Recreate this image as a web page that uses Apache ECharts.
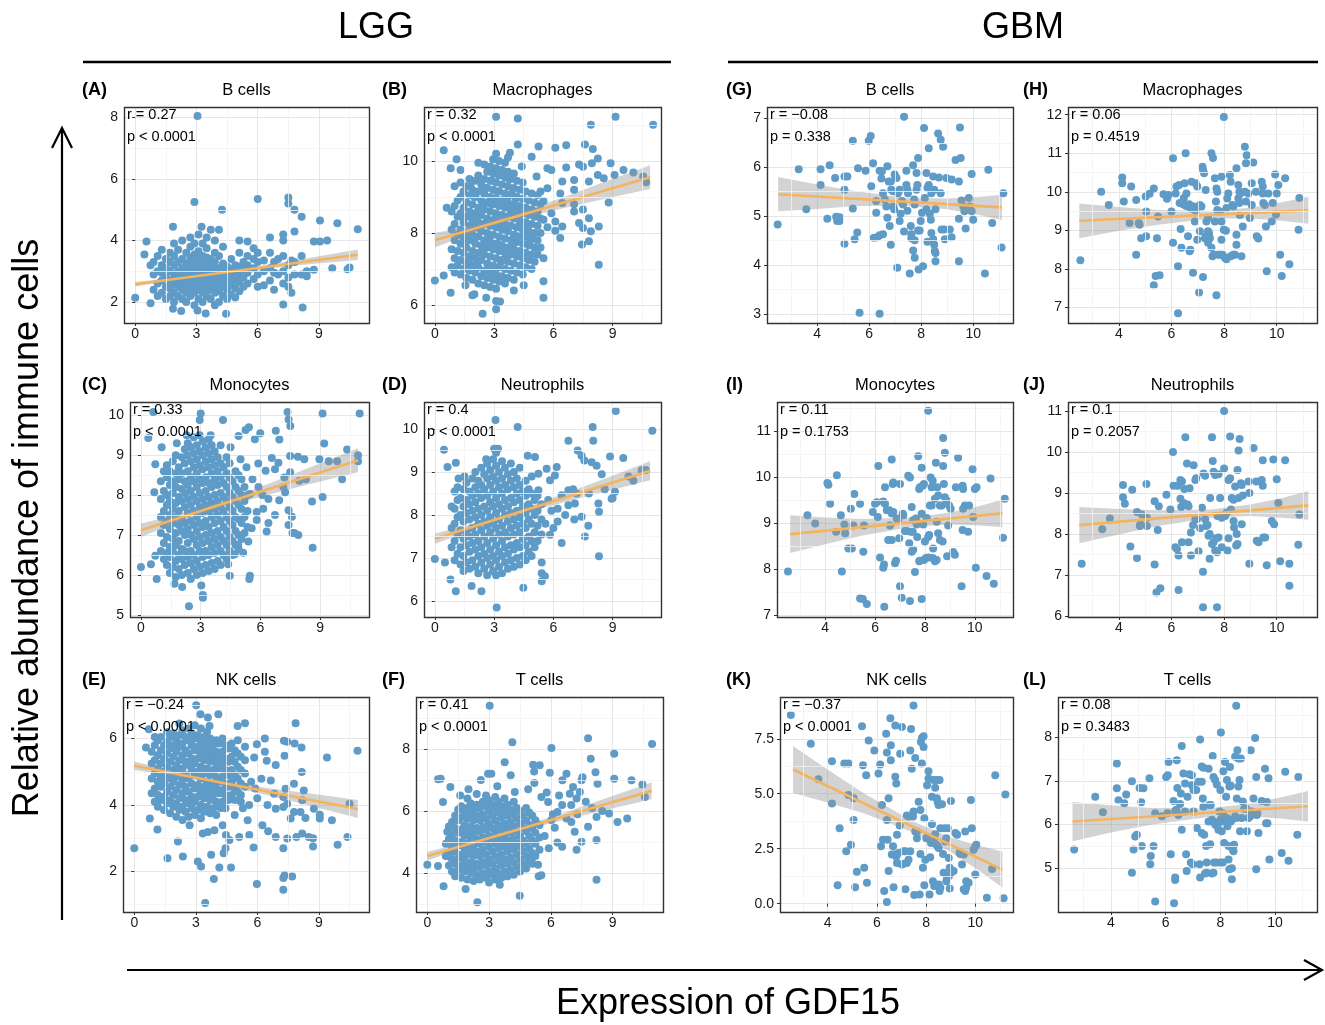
<!DOCTYPE html>
<html><head><meta charset="utf-8">
<script src="https://cdn.jsdelivr.net/npm/echarts@6/dist/echarts.min.js"></script>
<style>html,body{margin:0;padding:0;background:#fff}#c{width:1325px;height:1025px}</style>
</head><body><div id="c"></div>
<script>
// ---------------- DATA ----------------
const cellTypes = ['B cells','Macrophages','Monocytes','Neutrophils','NK cells','T cells'];
const lggXLim = [-0.55, 11.45];
const gbmXLim = [2.07, 11.53];
const lggXTicks = [0,3,6,9];
const gbmXTicks = [4,6,8,10];

const statR = ['r = 0.27','r = 0.32','r = 0.33','r = 0.4','r = \u22120.24','r = 0.41','r = \u22120.08','r = 0.06','r = 0.11','r = 0.1','r = \u22120.37','r = 0.08'];
const statP = ['p < 0.0001','p < 0.0001','p < 0.0001','p < 0.0001','p < 0.0001','p < 0.0001','p = 0.338','p = 0.4519','p = 0.1753','p = 0.2057','p < 0.0001','p = 0.3483'];

const yLimA=[1.32,8.34], yTicksA=[2,4,6,8];
const yLimB=[5.5,11.5], yTicksB=[6,8,10];
const yLimC=[4.95,10.33], yTicksC=[5,6,7,8,9,10];
const yLimD=[5.63,10.63], yTicksD=[6,7,8,9,10];
const yLimE=[0.78,7.25], yTicksE=[2,4,6];
const yLimF=[2.75,9.67], yTicksF=[4,6,8];
const yLimG=[2.82,7.23], yTicksG=[3,4,5,6,7];
const yLimH=[6.6,12.2], yTicksH=[7,8,9,10,11,12];
const yLimI=[6.97,11.64], yTicksI=[7,8,9,10,11];
const yLimJ=[5.98,11.22], yTicksJ=[6,7,8,9,10,11];
const yLimK=[-0.38,9.4], yTicksK=[0,2.5,5,7.5];
const yLimL=[4.0,8.92], yTicksL=[5,6,7,8];

// regression fits: [x, fit, lower, upper]
const fitA=[[0,2.58,2.51,2.65],[1.5,2.71,2.665,2.755],[3,2.84,2.805,2.875],[4.5,2.98,2.94,3.02],[6.5,3.15,3.09,3.21],[8.5,3.33,3.23,3.43],[10.9,3.54,3.37,3.71]];
const fitB=[[0,7.8,7.6,8.0],[1.5,8.04,7.92,8.16],[3,8.28,8.2,8.36],[4.5,8.52,8.42,8.62],[6.5,8.84,8.69,8.99],[8.5,9.17,8.94,9.4],[10.9,9.55,9.22,9.88]];
const fitC=[[0,7.12,6.95,7.29],[1.5,7.36,7.25,7.47],[3,7.6,7.52,7.68],[4.5,7.84,7.75,7.93],[6.5,8.16,8.02,8.3],[8.5,8.49,8.28,8.7],[10.9,8.87,8.57,9.17]];
const fitD=[[0,7.45,7.33,7.57],[1.5,7.67,7.59,7.75],[3,7.89,7.84,7.94],[4.5,8.1,8.04,8.16],[6.5,8.39,8.29,8.49],[8.5,8.68,8.53,8.83],[10.9,9.03,8.81,9.25]];
const fitE=[[0,5.18,5.05,5.31],[1.5,5.0,4.92,5.08],[3,4.82,4.76,4.88],[4.5,4.64,4.57,4.71],[6.5,4.4,4.29,4.51],[8.5,4.17,3.99,4.35],[10.9,3.88,3.61,4.15]];
const fitF=[[0,4.55,4.41,4.69],[1.5,4.84,4.75,4.93],[3,5.13,5.07,5.19],[4.5,5.42,5.35,5.49],[6.5,5.8,5.69,5.91],[8.5,6.19,6.01,6.37],[10.9,6.65,6.38,6.92]];
const fitG=[[2.5,5.45,5.1,5.8],[4,5.4,5.15,5.65],[5.5,5.36,5.21,5.51],[7.5,5.29,5.21,5.37],[9,5.25,5.14,5.36],[10.2,5.21,5.03,5.39],[11.1,5.18,4.92,5.44]];
const fitH=[[2.5,9.25,8.8,9.7],[4,9.3,8.99,9.61],[5.5,9.34,9.15,9.53],[7.5,9.41,9.31,9.51],[9,9.45,9.31,9.59],[10.2,9.49,9.25,9.73],[11.2,9.52,9.17,9.87]];
const fitI=[[2.6,8.77,8.36,9.18],[4,8.84,8.55,9.13],[5.5,8.92,8.74,9.1],[7.5,9.03,8.93,9.13],[9,9.11,8.98,9.24],[10.2,9.17,8.96,9.38],[11.1,9.22,8.92,9.52]];
const fitJ=[[2.5,8.22,7.78,8.66],[4,8.3,7.99,8.61],[5.5,8.39,8.2,8.58],[7.5,8.5,8.4,8.6],[9,8.58,8.44,8.72],[10.2,8.64,8.4,8.88],[11.2,8.7,8.35,9.05]];
const fitK=[[2.6,6.1,5.03,7.17],[4,5.35,4.6,6.1],[5.5,4.55,4.1,5.0],[7.5,3.48,3.23,3.73],[9,2.68,2.35,3.01],[10.2,2.04,1.46,2.62],[11.1,1.55,0.73,2.37]];
const fitL=[[2.6,6.07,5.62,6.52],[4,6.13,5.82,6.44],[5.5,6.19,6.0,6.38],[7.5,6.27,6.17,6.37],[9,6.33,6.19,6.47],[10.2,6.38,6.14,6.62],[11.2,6.42,6.07,6.77]];

// LGG points: dense cores as columns [x, [y, ...]] plus scattered single points [x, y]
const colsA=[[0,[2.14]],[0.45,[3.55]],[0.55,[3.97]],[0.75,[1.96,3.2]],[0.9,[2.4,2.9,3.3]],[1.1,[2.2,2.6,3.0,3.5]],[1.3,[2.3,2.7,2.95,3.2,3.7]],[1.5,[2.1,2.5,2.8,3.1,3.4]],[1.7,[2.2,2.45,2.7,3.0,3.3,3.6]],[1.85,[1.78,4.45]],[1.9,[2.0,2.3,2.6,2.9,3.2,3.5,3.9]],[2.1,[2.2,2.5,2.75,3.0,3.3,3.7]],[2.25,[1.71]],[2.3,[2.1,2.4,2.6,2.85,3.1,3.4,4.0]],[2.5,[2.0,2.3,2.55,2.8,3.05,3.25,3.6]],[2.7,[2.2,2.45,2.7,2.95,3.2,3.45,3.8,4.1]],[2.9,[1.9,2.3,2.55,2.8,3.05,3.3,3.55,3.9,5.25]],[3.05,[1.73,8.05]],[3.1,[2.1,2.4,2.65,2.9,3.15,3.4,3.65,4.2]],[3.25,[4.45]],[3.3,[2.0,2.3,2.55,2.8,3.05,3.3,3.5,3.9]],[3.45,[1.63]],[3.5,[2.2,2.45,2.7,2.95,3.2,3.45,3.75,4.1]],[3.7,[2.1,2.4,2.65,2.9,3.15,3.4,4.35]],[3.9,[1.9,2.3,2.55,2.8,3.05,3.3,3.6,4.0]],[4.1,[2.0,2.35,2.6,2.85,3.1,3.5,4.35]],[4.25,[5.0]],[4.3,[2.2,2.5,2.75,3.0,3.25,3.8]],[4.45,[1.62]],[4.5,[2.1,2.4,2.65,2.9,3.15]],[4.7,[2.25,2.55,2.8,3.05,3.4]],[4.9,[2.15,2.45,2.7,2.95,3.2]],[5.1,[2.35,2.65,2.9,3.15,3.6,4.0]],[5.3,[2.5,2.8,3.05,3.3]],[5.5,[2.6,2.95,3.2,3.5,3.97]],[5.8,[2.75,3.1,3.4,3.75]],[6.0,[2.5,2.9,3.3,3.6,5.35]],[6.3,[2.55,3.0,3.35]],[6.6,[2.7,3.1,3.6,4.1]],[6.8,[2.4,2.95,3.3]],[7.0,[2.9,3.4]],[7.25,[1.92,2.6,3.0,3.5,4.0,4.2]],[7.5,[2.5,2.8,3.2,5.2,5.4]],[7.65,[2.3,3.35]],[7.8,[2.9,3.3,4.29,5.0]],[8.15,[2.9,3.5,4.77]],[8.2,[1.82]],[8.4,[2.84,3.0]],[8.75,[3.05,3.97]],[9.05,[3.97,4.65]],[9.4,[4.0]],[9.65,[3.1]],[9.9,[4.56]],[10.4,[3.07]],[10.5,[3.12]],[10.9,[4.37]]];
const outA=[];

const colsB=[[0.85,[7.05,7.55,8.1,8.6]],[1.0,[6.9,7.3,7.8,8.25,8.75,9.3]],[1.15,[7.1,7.5,7.95,8.45,8.9]],[1.3,[6.85,7.25,7.7,8.1,8.55,9.0,9.4]],[1.45,[7.0,7.45,7.85,8.3,8.7,9.15]],[1.6,[6.75,7.15,7.6,8.0,8.45,8.85,9.3]],[1.75,[6.95,7.35,7.8,8.2,8.6,9.05,9.5]],[1.9,[6.7,7.1,7.5,7.95,8.35,8.8,9.2]],[2.05,[6.9,7.3,7.7,8.15,8.55,9.0,9.45]],[2.2,[6.6,7.05,7.45,7.9,8.3,8.7,9.15,9.6]],[2.35,[6.8,7.25,7.65,8.05,8.5,8.9,9.35]],[2.5,[6.55,6.95,7.4,7.8,8.25,8.65,9.1,9.5,9.9]],[2.65,[6.75,7.15,7.6,8.0,8.4,8.85,9.25,9.7]],[2.8,[6.5,6.9,7.35,7.75,8.2,8.6,9.0,9.45,9.85]],[2.95,[6.7,7.1,7.55,7.95,8.35,8.8,9.2,9.65,10.05]],[3.1,[6.45,6.85,7.3,7.7,8.15,8.55,8.95,9.4,9.8,10.2]],[3.25,[6.65,7.05,7.5,7.9,8.3,8.75,9.15,9.6,10.0]],[3.4,[6.8,7.25,7.65,8.1,8.5,8.9,9.35,9.75]],[3.55,[6.6,7.0,7.45,7.85,8.25,8.7,9.1,9.55,9.95]],[3.7,[6.75,7.2,7.6,8.05,8.45,8.85,9.3,9.7]],[3.85,[6.95,7.4,7.8,8.2,8.65,9.05,9.5]],[4.0,[6.7,7.15,7.55,7.95,8.4,8.8,9.25,9.65]],[4.15,[6.9,7.35,7.75,8.15,8.6,9.0,9.45]],[4.3,[7.1,7.5,7.9,8.35,8.75,9.2]],[4.45,[6.85,7.3,7.7,8.1,8.55,8.95,9.4]],[4.6,[7.05,7.45,7.9,8.3,8.7,9.15]],[4.75,[7.25,7.65,8.05,8.5,8.9]],[4.9,[7.0,7.4,7.85,8.25,8.65,9.1]],[5.05,[7.2,7.6,8.0,8.45,8.85]],[5.2,[7.4,7.8,8.2,8.6,9.05]],[5.35,[7.6,8.0,8.4,8.8]]];
const outB=[[0,6.68],[0.45,10.3],[0.45,6.82],[0.6,8.7],[0.8,6.34],[0.8,9.8],[1.1,10.05],[1.3,9.75],[1.55,6.55],[1.9,6.27],[2.0,6.3],[2.2,9.95],[2.42,5.76],[2.6,6.2],[3.1,5.88],[3.1,6.11],[3.3,6.1],[3.1,11.23],[3.7,10.1],[3.8,10.23],[4.0,6.4],[4.4,9.85],[4.5,6.55],[4.2,11.18],[4.2,10.46],[4.9,10.12],[5.15,9.57],[5.25,10.4],[5.35,9.15],[5.5,6.2],[5.5,6.66],[5.5,8.37],[5.5,8.88],[5.5,7.3],[5.7,8.16],[5.7,9.8],[5.7,9.24],[5.9,9.75],[5.9,8.55],[6.1,10.37],[6.1,8.32],[6.1,8.06],[6.35,7.86],[6.35,9.1],[6.45,9.43],[6.45,8.83],[6.45,8.18],[6.65,10.44],[6.65,9.82],[7.05,9.47],[7.05,9.2],[7.05,8.8],[7.05,8.6],[7.3,9.9],[7.3,8.28],[7.45,7.68],[7.5,9.84],[7.5,8.65],[7.5,8.14],[7.6,10.46],[7.8,9.43],[7.8,8.41],[7.8,7.77],[7.9,11.01],[7.9,8.05],[7.95,9.94],[8.0,10.33],[8.25,10.07],[8.25,9.61],[8.3,7.12],[8.3,8.18],[8.55,9.52],[8.8,8.85],[8.9,9.94],[9.1,9.61],[9.15,11.23],[9.55,9.75],[10.05,9.68],[10.55,9.57],[10.7,9.41],[11.05,11.01],
 [1.55,7.8],[1.85,8.55],[2.15,7.2],[2.45,8.85],[2.75,7.9],[3.05,8.4],[3.35,7.2],[3.65,8.95],[3.95,7.6],[4.25,8.2],[2.3,9.45],[2.9,9.45],[3.45,9.65],[1.95,7.85],[2.6,8.3],[3.2,7.7],[3.8,8.5],[4.4,7.45],[1.4,8.45],[2.0,9.0],[2.7,7.0],[3.3,8.9],[3.9,9.1],[4.6,8.55],[1.7,7.25],[2.45,7.6],[3.0,6.95],[3.6,7.35],[4.2,7.9],[4.8,7.75],[1.25,7.95],[2.1,8.4],[2.85,8.8],[3.5,8.1],[4.1,8.95],[4.7,8.2],[1.8,9.3],[2.55,9.25],[3.15,9.15],[3.75,9.5]];

const colsC=[[1.0,[6.6,7.05,7.45,7.9,8.35]],[1.15,[6.4,6.8,7.25,7.6,8.1,8.6]],[1.3,[6.25,6.55,6.95,7.35,7.75,8.0,8.45,8.75]],[1.45,[6.05,6.45,6.7,7.15,7.5,7.85,8.25,8.6]],[1.6,[6.2,6.6,6.9,7.3,7.65,8.05,8.35,8.85]],[1.75,[5.95,6.35,6.75,7.05,7.45,7.8,8.2,8.55,9.0]],[1.9,[6.15,6.5,6.85,7.25,7.6,7.95,8.4,8.7]],[2.05,[6.0,6.4,6.65,7.1,7.4,7.85,8.15,8.55,8.95]],[2.2,[6.25,6.6,7.0,7.3,7.7,8.05,8.35,8.8,9.15]],[2.35,[6.05,6.45,6.8,7.15,7.55,7.9,8.25,8.6,9.0,9.3]],[2.5,[5.9,6.3,6.6,7.0,7.35,7.75,8.1,8.45,8.85,9.2]],[2.65,[6.15,6.5,6.9,7.25,7.6,7.95,8.35,8.7,9.05,9.45]],[2.8,[6.0,6.35,6.75,7.1,7.45,7.85,8.2,8.55,8.9,9.25]],[2.95,[6.2,6.6,6.95,7.3,7.7,8.05,8.4,8.75,9.1,9.5]],[3.1,[6.05,6.45,6.8,7.2,7.55,7.9,8.3,8.65,9.0,9.35]],[3.25,[6.25,6.6,7.0,7.35,7.75,8.1,8.45,8.85,9.2]],[3.4,[6.1,6.5,6.85,7.2,7.6,7.95,8.3,8.7,9.05,9.4]],[3.55,[6.3,6.7,7.05,7.45,7.8,8.2,8.55,8.9,9.25]],[3.7,[6.15,6.55,6.9,7.3,7.65,8.0,8.4,8.75,9.1]],[3.85,[6.35,6.75,7.1,7.5,7.85,8.25,8.6,8.95]],[4.0,[6.25,6.6,6.95,7.35,7.7,8.05,8.45,8.8,9.25]],[4.15,[6.5,6.85,7.2,7.6,7.95,8.3,8.7]],[4.3,[6.4,6.75,7.1,7.45,7.85,8.2,8.55,8.95]],[4.45,[6.6,6.95,7.35,7.7,8.05,8.45,8.8]],[4.6,[6.5,6.85,7.25,7.6,7.95,8.35]],[4.75,[6.75,7.1,7.45,7.85,8.2,8.6]],[4.9,[6.65,7.0,7.4,7.75,8.1,8.5]],[5.05,[6.9,7.3,7.65,8.0,8.4]],[5.2,[7.05,7.45,7.85,8.2]],[5.35,[7.2,7.6,8.0]]];
const outC=[[0,6.2],[0.5,6.27],[0.79,5.9],[0.72,6.48],[0.62,10.08],[0.37,9.43],[1.04,9.2],[0.72,8.77],[0.67,8.07],[2.41,5.22],[3.03,5.74],[3.11,5.5],[3.11,5.43],[1.68,5.78],[2.07,5.7],[3.0,10.04],[2.95,9.88],[4.12,9.88],[4.9,9.48],[5.25,9.63],[5.42,9.7],[5.99,9.55],[5.72,9.4],[5.47,5.98],[5.44,5.9],[4.46,5.98],[7.36,10.08],[9.12,10.04],[10.98,10.04],[7.41,9.89],[7.5,9.73],[6.77,9.61],[6.95,9.39],[7.49,8.98],[7.88,8.96],[8.96,8.9],[9.2,9.29],[9.43,8.85],[9.85,8.85],[10.35,9.14],[10.9,9.0],[10.9,8.85],[10.1,8.4],[9.12,7.95],[8.62,6.68],[8.59,7.84],[8.28,8.4],[7.95,8.36],[7.49,8.57],[7.2,8.44],[6.9,8.81],[6.73,8.65],[6.57,8.93],[6.26,8.61],[5.89,8.79],[7.15,8.2],[7.24,8.07],[6.94,7.87],[7.41,7.62],[7.58,7.46],[7.61,7.05],[7.7,7.05],[7.41,7.25],[6.4,7.3],[6.31,7.09],[6.73,7.5],[6.4,7.9],[6.14,7.66],[5.81,7.58],[5.81,7.38],[5.47,8.03],[5.56,7.17],[5.39,6.84],[5.13,6.56],[4.88,6.76],[4.71,6.52],[4.38,6.27],[5.6,8.4],[5.9,8.2],[6.1,8.0],[5.3,8.7],[5.0,8.9],[4.5,9.2],[3.5,9.5],[2.3,9.5],[1.8,9.3],[8.2,8.9],[7.9,7.0]];

const colsD=[[0.85,[7.25,7.7,8.2]],[1.0,[6.95,7.4,7.8,8.15,8.55]],[1.15,[7.1,7.55,7.95,8.35,8.65]],[1.3,[6.85,7.25,7.65,8.0,8.4]],[1.45,[6.7,7.05,7.45,7.85,8.2,8.6]],[1.6,[6.9,7.3,7.6,8.05,8.35,8.75]],[1.75,[6.75,7.15,7.5,7.9,8.25,8.55]],[1.9,[6.95,7.35,7.7,8.1,8.45,8.85]],[2.05,[6.8,7.2,7.55,7.95,8.3,8.65,9.0]],[2.2,[6.65,7.05,7.4,7.8,8.15,8.5,8.8]],[2.35,[6.9,7.25,7.65,8.0,8.4,8.7,9.1]],[2.5,[6.75,7.1,7.5,7.85,8.2,8.6,8.95]],[2.65,[6.6,7.0,7.35,7.75,8.1,8.45,8.85,9.2]],[2.8,[6.85,7.2,7.6,7.95,8.3,8.7,9.05]],[2.95,[6.7,7.05,7.45,7.8,8.2,8.55,8.9,9.3]],[3.1,[6.6,6.95,7.3,7.7,8.05,8.4,8.8,9.15,9.45]],[3.25,[6.8,7.15,7.55,7.9,8.25,8.65,9.0]],[3.4,[6.65,7.05,7.4,7.75,8.15,8.5,8.85,9.25]],[3.55,[6.9,7.25,7.6,8.0,8.35,8.7,9.1]],[3.7,[6.75,7.1,7.5,7.85,8.2,8.6,8.95]],[3.85,[6.95,7.3,7.7,8.05,8.4,8.8,9.2]],[4.0,[6.8,7.2,7.55,7.9,8.3,8.65,9.0]],[4.15,[7.0,7.35,7.75,8.1,8.5,8.85]],[4.3,[6.85,7.25,7.6,7.95,8.35,8.7,9.1]],[4.45,[7.05,7.45,7.8,8.2,8.55]],[4.6,[6.95,7.3,7.7,8.05,8.45,8.8]],[4.75,[7.15,7.5,7.9,8.25,8.6]],[4.9,[7.05,7.4,7.8,8.15,8.5,8.9]],[5.05,[7.25,7.6,8.0,8.35]],[5.2,[7.4,7.75,8.1,8.45]],[5.4,[7.55,7.9,8.25]]];
const outD=[[0,6.98],[0.51,6.9],[0.79,6.5],[1.06,6.23],[0.46,9.52],[0.64,9.12],[1.06,9.22],[1.86,6.35],[2.36,6.23],[3.13,5.85],[3.07,10.21],[4.19,10.05],[3.0,9.54],[3.2,9.54],[4.48,6.31],[5.41,6.9],[5.41,6.65],[5.57,6.58],[5.41,6.46],[6.76,9.73],[7.99,10.05],[8.02,9.73],[9.16,10.42],[11.01,9.96],[7.23,9.5],[7.43,9.38],[7.57,9.27],[7.94,9.23],[8.19,9.15],[8.45,8.95],[8.87,9.36],[9.54,9.33],[9.8,8.9],[10.05,8.8],[10.47,9.04],[10.68,9.05],[9.12,8.54],[8.95,8.38],[8.28,8.27],[8.31,8.08],[8.31,7.04],[7.6,7.5],[7.77,7.75],[7.43,7.96],[7.09,8.27],[7.18,8.5],[6.76,8.58],[6.42,8.46],[6.17,9.12],[6.08,8.92],[5.66,9.08],[5.83,8.81],[5.24,8.96],[5.07,9.35],[4.7,9.38],[5.24,8.58],[5.74,8.35],[6.22,8.15],[6.22,7.85],[6.42,7.35],[5.83,7.54],[7.06,7.9],[6.76,8.23],[5.6,7.8],[5.9,8.1],[6.0,7.7],[6.6,8.0],[7.0,8.6],[7.8,8.5],[8.6,8.6],[9.0,8.4],[2.6,9.3],[1.5,8.9],[1.2,8.85]];

const colsE=[[0.85,[4.35,4.8,5.25,5.6]],[1.0,[4.1,4.5,4.95,5.35,5.8]],[1.15,[3.95,4.3,4.7,5.1,5.5,5.95]],[1.3,[4.15,4.55,4.85,5.25,5.65,6.05]],[1.45,[3.85,4.25,4.65,5.0,5.4,5.8]],[1.6,[4.05,4.4,4.8,5.15,5.55,5.9,6.2]],[1.75,[3.75,4.15,4.55,4.9,5.3,5.7,6.05]],[1.9,[3.95,4.3,4.7,5.05,5.45,5.8,6.15]],[2.05,[3.65,4.05,4.45,4.85,5.2,5.6,5.95]],[2.2,[3.85,4.2,4.6,5.0,5.35,5.75,6.1,6.45]],[2.35,[3.55,3.95,4.35,4.75,5.1,5.5,5.85,6.25]],[2.5,[3.8,4.15,4.55,4.9,5.3,5.65,6.05]],[2.65,[3.65,4.05,4.4,4.8,5.2,5.55,5.95,6.3]],[2.8,[3.9,4.25,4.65,5.05,5.4,5.8,6.15]],[2.95,[3.7,4.1,4.5,4.9,5.25,5.65,6.0,6.4]],[3.1,[3.85,4.25,4.6,5.0,5.4,5.75,6.1]],[3.25,[3.6,4.0,4.4,4.8,5.15,5.55,5.9,6.3]],[3.4,[3.8,4.2,4.55,4.95,5.35,5.7,6.05]],[3.55,[3.95,4.35,4.7,5.1,5.5,5.85,6.2]],[3.7,[3.75,4.15,4.5,4.9,5.3,5.65,6.0]],[3.85,[3.9,4.3,4.65,5.05,5.45,5.8]],[4.0,[3.7,4.1,4.5,4.85,5.25,5.6,5.95]],[4.15,[3.95,4.35,4.7,5.1,5.45,5.85]],[4.3,[4.1,4.45,4.85,5.25,5.6,6.0]],[4.45,[3.9,4.3,4.65,5.05,5.4,5.8]],[4.6,[4.15,4.55,4.9,5.3,5.7]],[4.75,[4.3,4.7,5.05,5.45,5.85]],[4.9,[4.15,4.5,4.9,5.3,5.65]],[5.05,[4.4,4.8,5.15,5.55,5.95]],[5.2,[4.3,4.65,5.05,5.45]],[5.4,[4.55,4.95,5.35,5.75]]];
const outE=[[0,2.7],[0.76,3.59],[1.13,3.26],[1.62,2.4],[2.13,2.9],[2.37,2.45],[2.7,3.39],[3.46,1.05],[3.1,2.3],[3.26,2.15],[3.88,1.77],[4.15,2.12],[4.72,2.12],[4.36,2.55],[4.45,2.7],[3.75,2.5],[3.02,7.0],[3.23,6.73],[3.59,6.63],[4.1,6.73],[3.67,6.38],[0.57,5.73],[1.0,6.05],[0.71,6.28],[5.04,6.38],[5.4,6.46],[5.98,5.83],[6.37,6.0],[7.87,6.46],[7.3,5.93],[7.46,5.9],[7.82,5.85],[8.16,5.73],[9.4,5.43],[10.89,5.63],[6.37,5.6],[6.46,5.33],[5.85,5.43],[6.2,4.79],[6.66,4.74],[7.33,5.48],[8.17,4.99],[7.79,4.64],[7.38,4.49],[6.82,4.34],[7.27,4.24],[7.46,4.04],[7.27,3.94],[6.9,3.89],[7.79,3.79],[7.63,3.59],[8.11,3.79],[8.76,3.89],[8.27,4.44],[8.19,4.14],[8.35,3.61],[9.05,3.71],[9.05,3.59],[9.64,3.54],[8.19,3.14],[8.51,3.04],[7.91,3.04],[7.46,2.99],[6.9,3.04],[6.53,3.21],[6.25,3.39],[5.53,3.54],[5.61,3.1],[5.12,3.04],[5.82,2.72],[8.72,2.75],[8.72,3.0],[9.92,2.8],[10.4,3.04],[10.5,4.04],[7.27,2.7],[7.27,1.8],[7.33,1.88],[7.7,1.85],[7.27,1.45],[5.98,1.62],[4.23,3.91],[4.31,3.39],[4.47,3.1],[4.64,2.95],[3.91,3.24],[3.59,3.19],[3.34,3.14],[5.6,4.0],[5.9,4.5],[6.0,4.2],[5.7,4.7],[6.5,4.0],[6.9,5.2],[5.3,3.9],[4.9,3.7],[5.2,4.1]];

const colsF=[[0.9,[4.55,4.95]],[1.05,[4.25,4.65,5.1,5.5]],[1.2,[4.05,4.45,4.85,5.25,5.65]],[1.35,[3.9,4.3,4.7,5.05,5.45,5.85]],[1.5,[4.1,4.5,4.9,5.3,5.7,6.05]],[1.65,[3.85,4.25,4.6,5.0,5.4,5.8,6.15]],[1.8,[4.05,4.4,4.8,5.2,5.55,5.95]],[1.95,[3.8,4.2,4.6,4.95,5.35,5.75,6.1,6.4]],[2.1,[4.0,4.35,4.75,5.15,5.5,5.9,6.25]],[2.25,[3.75,4.15,4.55,4.9,5.3,5.7,6.05]],[2.4,[3.95,4.3,4.7,5.1,5.45,5.85,6.2,6.55]],[2.55,[3.8,4.2,4.55,4.95,5.35,5.7,6.1]],[2.7,[4.0,4.35,4.75,5.15,5.5,5.9,6.3]],[2.85,[3.85,4.25,4.6,5.0,5.4,5.75,6.15,6.5]],[3.0,[3.7,4.05,4.45,4.85,5.2,5.6,6.0,6.35]],[3.15,[3.95,4.3,4.7,5.1,5.45,5.85,6.2]],[3.3,[3.8,4.15,4.55,4.95,5.35,5.7,6.1,6.45]],[3.45,[4.0,4.4,4.8,5.15,5.55,5.95,6.3]],[3.6,[3.85,4.25,4.6,5.0,5.4,5.8,6.15]],[3.75,[4.05,4.45,4.85,5.2,5.6,6.0,6.4]],[3.9,[3.9,4.3,4.7,5.05,5.45,5.85,6.2]],[4.05,[4.1,4.5,4.9,5.3,5.65,6.05]],[4.2,[3.95,4.35,4.75,5.1,5.5,5.9,6.3]],[4.35,[4.2,4.6,4.95,5.35,5.75,6.1]],[4.5,[4.05,4.45,4.85,5.2,5.6,6.0]],[4.65,[4.3,4.7,5.05,5.45,5.85]],[4.8,[4.15,4.55,4.95,5.35,5.7,6.1]],[4.95,[4.4,4.8,5.2,5.55,5.95]],[5.1,[4.3,4.65,5.05,5.45,5.85]],[5.25,[4.55,4.95,5.3,5.7]],[5.45,[4.75,5.15,5.55]]];
const outF=[[0,4.27],[0.52,4.23],[0.52,7.02],[0.65,7.04],[0.79,3.58],[0.76,6.29],[0.97,5.33],[1.09,4.53],[1.12,6.77],[1.86,3.49],[2.43,3.06],[3.03,9.39],[2.95,7.2],[3.11,7.2],[3.76,7.57],[4.13,8.21],[4.05,7.15],[4.25,6.61],[4.49,3.27],[3.52,3.63],[5.14,7.49],[5.19,7.27],[5.46,7.47],[5.95,7.23],[6.03,8.03],[6.56,6.99],[6.76,7.2],[7.49,6.99],[7.54,7.09],[7.81,8.34],[7.94,7.68],[8.17,7.25],[8.27,6.88],[9.08,7.04],[9.08,7.84],[9.92,6.99],[10.45,6.85],[10.57,6.45],[9.71,5.76],[9.24,5.65],[8.83,5.92],[8.22,5.07],[8.22,3.79],[8.22,5.81],[7.81,5.49],[7.49,5.01],[7.25,4.75],[7.16,5.33],[7.0,5.65],[6.76,5.76],[6.55,6.19],[6.32,5.97],[6.19,5.46],[6.03,5.71],[5.87,6.29],[6.32,4.99],[6.55,4.85],[6.99,6.19],[7.25,6.4],[7.41,6.61],[7.08,6.77],[6.92,6.56],[5.54,6.45],[5.38,4.27],[5.41,3.9],[5.54,3.93],[5.06,4.43],[4.73,4.27],[10.92,8.16],[5.7,5.2],[5.9,4.8],[6.1,5.9],[5.8,6.6],[6.4,6.5],[7.7,6.3],[8.0,6.1],[8.5,6.0],[7.3,5.9],[4.9,6.7],[5.2,6.9],[3.4,6.8],[2.6,7.0],[1.6,6.5],[2.0,6.7]];

// GBM points [x, y]
const ptsG=[[2.48,4.83],[3.29,5.96],[3.58,5.14],[4.13,5.96],[4.13,5.64],[4.48,6.04],[4.39,4.95],[4.69,5.78],[4.73,4.99],[4.8,4.95],[4.86,4.9],[4.77,4.9],[4.86,4.98],[5.05,5.81],[5.16,5.81],[5.05,5.54],[5.05,4.44],[5.37,6.54],[5.37,5.16],[5.44,4.53],[5.54,4.67],[5.57,5.98],[5.63,3.03],[5.86,5.93],[5.98,6.54],[6.06,6.64],[6.08,5.61],[6.15,6.08],[6.27,5.07],[6.18,4.56],[6.31,4.57],[6.4,4.61],[6.53,4.63],[6.27,5.31],[6.4,5.93],[6.49,5.92],[6.4,3.01],[6.47,5.77],[6.53,5.47],[6.6,5.34],[6.66,5.2],[6.7,6.02],[6.75,5.71],[6.83,5.71],[6.7,4.97],[6.79,4.8],[6.83,4.42],[6.85,5.54],[6.92,5.51],[6.92,5.2],[6.96,5.14],[6.98,5.85],[7.05,5.78],[7.08,3.95],[7.11,5.47],[7.17,5.54],[7.17,4.9],[7.21,5.05],[7.26,5.31],[7.3,5.24],[7.34,7.03],[7.34,4.69],[7.43,5.93],[7.43,5.64],[7.47,5.54],[7.47,5.11],[7.49,5.47],[7.56,3.83],[7.6,4.8],[7.62,4.63],[7.62,4.55],[7.69,6.04],[7.69,4.3],[7.73,5.34],[7.75,5.24],[7.75,4.51],[7.75,4.15],[7.82,5.88],[7.82,5.54],[7.85,5.64],[7.88,6.19],[7.88,4.71],[7.94,4.71],[7.9,3.91],[7.98,4.9],[8.03,5.07],[8.07,3.98],[8.11,6.8],[8.14,5.37],[8.2,5.14],[8.2,5.88],[8.24,5.58],[8.29,5.64],[8.24,4.48],[8.29,6.39],[8.33,5.05],[8.37,4.93],[8.39,4.66],[8.39,5.47],[8.46,5.81],[8.5,5.54],[8.46,4.53],[8.5,4.42],[8.52,4.29],[8.55,4.25],[8.55,4.08],[8.55,5.14],[8.65,6.69],[8.75,6.56],[8.68,5.79],[8.75,5.47],[8.84,6.42],[8.78,4.73],[8.88,4.73],[8.91,4.53],[8.97,5.78],[9.17,5.75],[9.1,4.73],[9.17,4.57],[9.32,6.15],[9.49,6.81],[9.52,6.19],[9.45,5.71],[9.45,4.95],[9.45,4.08],[9.55,5.32],[9.62,5.2],[9.66,5.1],[9.71,5.14],[9.71,4.75],[9.83,5.37],[9.87,5.2],[9.94,5.1],[9.94,5.86],[10.0,4.93],[10.45,3.83],[10.58,5.95],[10.73,4.86],[11.09,4.36],[11.16,5.47]];
const ptsH=[[2.54,8.23],[3.33,10.0],[3.62,9.66],[4.13,10.37],[4.13,10.22],[4.19,9.75],[4.41,9.19],[4.47,10.14],[4.66,9.79],[4.66,8.37],[4.76,9.19],[4.79,9.15],[4.85,8.8],[5.02,9.88],[5.04,8.85],[5.04,9.49],[5.17,9.95],[5.33,10.09],[5.33,7.58],[5.4,7.82],[5.55,7.84],[5.45,8.8],[5.49,9.36],[5.7,9.94],[5.83,9.82],[5.89,9.92],[6.0,9.49],[6.06,10.87],[6.06,8.68],[6.16,9.96],[6.19,10.14],[6.25,8.07],[6.25,6.85],[6.29,10.18],[6.31,9.71],[6.35,9.04],[6.38,8.55],[6.44,9.68],[6.47,9.84],[6.5,10.22],[6.54,9.64],[6.57,9.96],[6.54,11.0],[6.63,8.85],[6.63,9.62],[6.67,9.68],[6.72,9.64],[6.69,8.46],[6.72,8.5],[6.76,10.26],[6.76,9.57],[6.82,9.63],[6.85,9.55],[6.92,9.51],[6.82,7.9],[6.89,9.23],[6.92,10.22],[6.98,10.14],[6.98,8.76],[7.05,7.39],[7.08,9.66],[7.14,9.62],[7.08,8.98],[7.18,10.65],[7.2,10.57],[7.24,10.48],[7.27,8.8],[7.3,8.84],[7.2,7.79],[7.3,10.05],[7.33,9.23],[7.39,9.32],[7.39,8.98],[7.43,8.93],[7.39,8.68],[7.46,8.8],[7.52,11.0],[7.58,10.88],[7.52,8.55],[7.56,8.33],[7.61,8.37],[7.65,10.35],[7.65,9.23],[7.69,9.75],[7.74,9.53],[7.71,10.09],[7.74,10.0],[7.71,7.32],[7.78,8.37],[7.84,8.37],[7.84,9.49],[7.9,9.23],[7.9,10.39],[7.9,8.76],[7.94,8.37],[8.03,8.29],[7.99,11.94],[7.99,9.02],[8.07,8.99],[8.09,9.58],[8.09,8.25],[8.12,9.83],[8.16,9.96],[8.22,10.44],[8.25,10.26],[8.25,8.33],[8.35,8.37],[8.32,9.66],[8.35,9.62],[8.41,8.37],[8.47,8.63],[8.47,8.89],[8.47,10.61],[8.54,10.18],[8.58,10.0],[8.62,9.96],[8.54,9.83],[8.58,9.71],[8.6,9.4],[8.66,8.33],[8.71,9.1],[8.79,11.17],[8.83,10.74],[8.86,10.95],[8.79,10.0],[8.92,9.96],[8.83,9.75],[8.98,9.32],[9.05,9.66],[9.05,10.22],[9.11,10.76],[9.21,10.0],[9.24,8.85],[9.3,8.79],[9.43,10.26],[9.47,10.14],[9.47,9.96],[9.49,9.71],[9.55,9.66],[9.59,9.1],[9.62,7.94],[9.68,9.96],[9.81,9.23],[9.85,9.71],[9.94,10.45],[9.97,9.41],[10.0,9.96],[10.06,10.18],[10.13,8.37],[10.32,10.35],[10.48,8.12],[10.19,7.82],[10.83,9.02],[10.86,9.84]];
const ptsI=[[2.51,7.96],[3.29,9.18],[3.6,9.0],[4.09,9.88],[4.13,9.84],[4.2,9.43],[4.44,8.82],[4.47,10.05],[4.63,9.18],[4.67,7.96],[4.77,8.98],[4.8,8.79],[4.93,8.46],[5.07,8.46],[5.03,9.32],[5.13,8.96],[5.17,9.64],[5.4,9.43],[5.4,7.37],[5.51,7.36],[5.53,8.39],[5.67,7.25],[5.56,8.96],[5.91,9.25],[6.0,9.43],[6.07,9.46],[6.11,9.14],[6.13,10.25],[6.2,8.26],[6.33,8.04],[6.36,8.11],[6.33,9.48],[6.4,9.43],[6.37,7.19],[6.4,9.79],[6.47,9.29],[6.57,9.29],[6.53,8.64],[6.67,8.64],[6.6,8.96],[6.67,10.39],[6.67,9.22],[6.73,9.25],[6.71,9.86],[6.73,9.89],[6.8,8.14],[6.84,8.19],[6.87,9.11],[6.93,9.07],[6.97,8.68],[7.0,9.86],[7.0,7.64],[7.07,7.39],[7.11,9.21],[7.13,9.18],[7.2,8.84],[7.27,8.84],[7.33,10.04],[7.4,10.0],[7.37,8.57],[7.4,7.32],[7.43,8.82],[7.51,8.82],[7.47,9.36],[7.47,8.39],[7.53,8.43],[7.53,9.07],[7.64,9.11],[7.6,7.95],[7.67,8.98],[7.69,8.71],[7.73,10.46],[7.77,9.75],[7.8,9.79],[7.77,8.18],[7.8,8.19],[7.87,10.21],[7.87,7.36],[7.87,9.21],[7.91,9.82],[7.96,9.86],[7.93,8.98],[7.96,8.21],[8.04,8.25],[8.13,8.26],[8.0,8.61],[8.07,9.12],[8.13,11.45],[8.13,8.71],[8.17,8.75],[8.2,9.39],[8.27,9.39],[8.23,10.0],[8.31,9.93],[8.27,9.79],[8.31,8.25],[8.4,8.18],[8.47,8.21],[8.33,8.46],[8.4,9.54],[8.44,10.32],[8.47,9.04],[8.49,9.79],[8.53,9.61],[8.53,8.79],[8.6,8.64],[8.6,9.39],[8.67,9.39],[8.71,8.61],[8.73,10.25],[8.73,10.86],[8.76,9.86],[8.8,10.54],[8.8,9.57],[8.87,9.5],[8.89,8.29],[8.93,8.96],[8.97,9.39],[9.03,9.32],[9.13,8.38],[9.2,8.32],[9.24,9.79],[9.33,10.43],[9.47,7.64],[9.51,9.82],[9.53,9.75],[9.53,9.32],[9.6,9.39],[9.51,8.86],[9.73,8.82],[9.77,9.39],[9.91,10.18],[9.93,9.14],[10.0,9.75],[10.07,9.79],[10.04,8.04],[10.47,7.86],[10.63,9.98],[10.76,7.69],[11.13,8.69],[11.2,9.54]];
const ptsJ=[[2.59,7.28],[3.37,8.12],[3.66,8.38],[4.16,9.2],[4.16,8.9],[4.23,8.74],[4.44,7.7],[4.51,9.08],[4.69,8.54],[4.69,7.42],[4.8,8.2],[4.82,8.24],[4.88,8.48],[5.05,9.22],[5.07,8.2],[5.07,8.4],[5.36,8.8],[5.36,7.26],[5.43,6.58],[5.58,6.68],[5.48,8.1],[5.52,8.68],[5.81,8.96],[5.96,8.6],[6.06,10.0],[6.08,9.18],[6.15,7.68],[6.21,7.64],[6.24,9.18],[6.27,7.48],[6.27,6.64],[6.34,9.32],[6.4,9.28],[6.34,8.86],[6.37,8.66],[6.4,7.8],[6.46,8.76],[6.53,8.72],[6.49,9.1],[6.53,10.36],[6.59,9.72],[6.61,8.72],[6.65,8.68],[6.65,7.8],[6.69,9.12],[6.74,8.04],[6.74,7.48],[6.82,8.22],[6.84,9.68],[6.91,9.32],[6.94,9.36],[6.91,8.36],[6.97,8.36],[7.03,7.58],[7.09,8.14],[7.16,8.64],[7.2,7.08],[7.2,6.22],[7.22,9.48],[7.28,9.42],[7.28,8.36],[7.32,8.2],[7.37,8.22],[7.41,7.96],[7.45,8.0],[7.45,7.4],[7.47,8.88],[7.54,10.36],[7.54,7.76],[7.6,7.8],[7.57,9.78],[7.6,9.52],[7.66,9.44],[7.66,7.6],[7.73,7.56],[7.7,7.9],[7.79,7.92],[7.73,6.22],[7.75,8.44],[7.79,9.46],[7.85,8.88],[7.85,8.44],[7.91,8.4],[7.91,7.68],[8.0,11.0],[8.0,9.6],[8.04,8.44],[8.1,8.52],[8.13,7.6],[8.17,9.32],[8.23,9.36],[8.17,7.9],[8.23,10.38],[8.26,8.6],[8.29,8.88],[8.36,8.84],[8.36,8.32],[8.38,8.16],[8.42,9.16],[8.46,7.72],[8.51,7.76],[8.48,8.0],[8.51,9.56],[8.55,10.04],[8.55,8.88],[8.59,10.32],[8.64,9.24],[8.67,9.2],[8.67,8.24],[8.71,8.94],[8.93,9.28],[8.96,9.0],[8.96,7.28],[9.12,10.1],[9.24,7.84],[9.31,7.8],[9.22,9.28],[9.43,9.32],[9.47,9.18],[9.47,9.8],[9.49,7.92],[9.56,7.92],[9.62,7.24],[9.87,9.82],[9.81,8.32],[9.9,8.24],[10.0,9.34],[10.06,8.76],[10.13,7.34],[10.32,9.8],[10.48,7.28],[10.48,6.74],[10.82,7.74],[10.86,8.48]];
const ptsK=[[2.51,8.58],[3.32,7.27],[3.63,5.66],[4.18,6.48],[4.18,4.56],[4.41,0.84],[4.49,3.43],[4.68,6.37],[4.85,6.37],[4.76,2.38],[4.85,4.94],[4.95,2.68],[5.06,4.79],[5.06,3.81],[5.12,0.75],[5.19,1.45],[5.4,8.07],[5.44,6.3],[5.49,1.63],[5.57,5.84],[5.6,0.95],[5.67,7.42],[5.9,6.97],[6.07,5.92],[6.14,6.33],[6.17,2.61],[6.21,4.49],[6.25,2.91],[6.3,0.57],[6.38,7.73],[6.41,6.87],[6.41,3.81],[6.41,0.08],[6.44,2.91],[6.48,4.79],[6.48,1.48],[6.55,8.43],[6.57,7.2],[6.57,6.52],[6.61,2.23],[6.66,2.61],[6.68,0.75],[6.71,2.23],[6.79,2.15],[6.75,8.1],[6.75,5.77],[6.79,5.47],[6.82,1.85],[6.82,3.13],[6.88,2.3],[6.93,3.55],[6.95,6.82],[7.02,8.03],[7.02,1.78],[7.09,1.81],[7.09,2.38],[7.16,2.38],[7.16,0.65],[7.22,1.85],[7.29,2.0],[7.22,4.01],[7.29,3.96],[7.36,6.97],[7.36,2.38],[7.39,7.95],[7.42,6.14],[7.47,3.96],[7.49,9.01],[7.49,4.19],[7.52,0.39],[7.56,6.63],[7.56,3.28],[7.63,3.28],[7.63,2.98],[7.7,4.64],[7.74,0.42],[7.77,4.26],[7.77,2.26],[7.79,7.35],[7.83,7.53],[7.9,7.62],[7.83,6.37],[7.87,1.63],[7.9,7.12],[7.93,3.89],[7.93,0.84],[7.97,2.0],[8.01,2.98],[8.06,3.01],[8.04,5.39],[8.1,6.02],[8.1,5.69],[8.14,0.42],[8.17,2.11],[8.2,2.76],[8.24,4.86],[8.24,3.61],[8.28,1.02],[8.31,5.62],[8.44,5.62],[8.55,5.62],[8.31,2.83],[8.33,0.8],[8.37,5.27],[8.37,3.16],[8.42,2.68],[8.44,4.79],[8.47,4.64],[8.51,4.49],[8.47,2.61],[8.51,2.53],[8.51,0.87],[8.55,0.57],[8.58,0.72],[8.58,3.43],[8.65,4.52],[8.69,2.26],[8.71,1.4],[8.74,3.43],[8.78,2.83],[8.82,2.98],[8.82,1.02],[8.85,1.17],[8.92,1.25],[8.88,3.43],[8.92,2.08],[8.96,1.63],[8.98,1.33],[8.96,0.69],[9.01,4.67],[9.12,1.48],[9.19,3.21],[9.26,3.13],[9.36,2.33],[9.39,2.26],[9.53,2.23],[9.46,1.78],[9.53,0.65],[9.59,0.57],[9.63,0.72],[9.59,3.28],[9.63,1.02],[9.73,0.95],[9.82,4.71],[9.86,3.43],[9.93,2.45],[10.0,2.61],[10.04,2.68],[10.0,1.33],[10.47,0.27],[10.68,1.58],[10.81,5.84],[11.15,0.24],[11.22,4.97]];
const ptsL=[[2.66,5.43],[3.43,6.64],[3.71,6.28],[4.22,7.4],[4.22,6.83],[4.28,6.56],[4.49,6.49],[4.56,6.69],[4.77,6.99],[4.77,4.9],[4.83,5.43],[4.89,5.73],[4.95,5.77],[5.05,6.84],[5.19,6.83],[5.11,6.51],[5.13,5.51],[5.41,7.06],[5.44,5.09],[5.46,5.28],[5.56,5.51],[5.62,6.26],[5.62,4.24],[5.86,6.19],[6.02,7.09],[6.08,7.13],[6.07,6.26],[6.11,7.43],[6.19,5.32],[6.29,6.54],[6.31,4.2],[6.35,6.31],[6.39,6.34],[6.35,4.79],[6.35,4.73],[6.41,7.47],[6.43,6.84],[6.47,6.22],[6.53,6.47],[6.56,6.71],[6.59,7.8],[6.59,5.88],[6.65,7.17],[6.71,6.94],[6.71,6.3],[6.75,5.32],[6.77,4.94],[6.8,6.64],[6.87,7.15],[6.96,7.13],[6.92,5.13],[6.99,5.09],[6.96,6.9],[7.02,6.79],[7.02,6.3],[7.12,6.79],[7.14,5.92],[7.2,6.98],[7.24,5.09],[7.26,7.95],[7.26,4.79],[7.32,7.33],[7.38,7.3],[7.32,6.98],[7.32,5.81],[7.36,6.6],[7.38,6.41],[7.41,5.77],[7.44,4.88],[7.5,4.9],[7.48,5.51],[7.5,5.13],[7.57,6.07],[7.57,7.28],[7.6,6.45],[7.65,6.45],[7.63,5.55],[7.69,4.88],[7.75,4.9],[7.69,6.11],[7.75,6.07],[7.72,7.57],[7.75,7.09],[7.81,7.02],[7.77,5.13],[7.85,5.13],[7.81,6.0],[7.87,6.0],[7.87,6.92],[7.89,5.96],[7.93,5.88],[7.97,6.3],[8.0,6.11],[8.05,6.07],[8.0,6.79],[8.0,5.13],[8.09,5.13],[8.02,8.11],[8.05,5.85],[8.09,6.26],[8.11,7.22],[8.14,6.11],[8.14,5.58],[8.17,7.43],[8.21,6.64],[8.24,7.02],[8.24,6.15],[8.3,6.11],[8.26,5.96],[8.3,5.51],[8.3,5.2],[8.33,4.98],[8.33,6.87],[8.38,6.89],[8.35,7.32],[8.38,6.07],[8.42,6.11],[8.42,5.0],[8.42,4.75],[8.45,5.43],[8.48,5.39],[8.5,5.54],[8.54,7.55],[8.54,6.19],[8.58,6.15],[8.58,8.72],[8.6,6.6],[8.62,7.7],[8.66,6.87],[8.7,7.02],[8.66,7.51],[8.75,7.51],[8.72,5.85],[8.78,6.15],[8.82,6.53],[8.87,6.36],[8.94,6.36],[8.97,5.85],[9.03,6.15],[9.09,6.19],[9.11,7.7],[9.15,6.3],[9.21,6.6],[9.27,7.98],[9.31,7.09],[9.31,4.98],[9.33,6.22],[9.35,6.26],[9.39,5.81],[9.51,6.54],[9.7,6.52],[9.63,7.28],[9.67,6.03],[9.72,6.03],[9.76,7.06],[9.79,5.2],[10.37,7.21],[10.24,5.35],[10.49,5.17],[10.85,7.09],[10.81,5.77]];

// ---------------- BUILD ----------------
const FF = '"Liberation Sans", Arial, Helvetica, sans-serif';
const PT = '#5F9BC7', OR = '#F4B35F', BAND = 'rgba(150,150,150,0.42)';
function fromColumns(cols){const o=[];cols.forEach(c=>c[1].forEach(y=>o.push([c[0],y])));return o;}

const panels = [
 {letter:'(A)', ct:0, i:0,  box:[124,107,369,323], xLim:lggXLim, xT:lggXTicks, yLim:yLimA, yT:yTicksA, pts:fromColumns(colsA).concat(outA), fit:fitA},
 {letter:'(B)', ct:1, i:1,  box:[424,107,661,323], xLim:lggXLim, xT:lggXTicks, yLim:yLimB, yT:yTicksB, pts:fromColumns(colsB).concat(outB), fit:fitB},
 {letter:'(C)', ct:2, i:2,  box:[130,402,369,617], xLim:lggXLim, xT:lggXTicks, yLim:yLimC, yT:yTicksC, pts:fromColumns(colsC).concat(outC), fit:fitC},
 {letter:'(D)', ct:3, i:3,  box:[424,402,661,617], xLim:lggXLim, xT:lggXTicks, yLim:yLimD, yT:yTicksD, pts:fromColumns(colsD).concat(outD), fit:fitD},
 {letter:'(E)', ct:4, i:4,  box:[123,697,369,912], xLim:lggXLim, xT:lggXTicks, yLim:yLimE, yT:yTicksE, pts:fromColumns(colsE).concat(outE), fit:fitE},
 {letter:'(F)', ct:5, i:5,  box:[416,697,663,912], xLim:lggXLim, xT:lggXTicks, yLim:yLimF, yT:yTicksF, pts:fromColumns(colsF).concat(outF), fit:fitF},
 {letter:'(G)', ct:0, i:6,  box:[767,107,1013,323], xLim:gbmXLim, xT:gbmXTicks, yLim:yLimG, yT:yTicksG, pts:ptsG, fit:fitG},
 {letter:'(H)', ct:1, i:7,  box:[1068,107,1317,323], xLim:gbmXLim, xT:gbmXTicks, yLim:yLimH, yT:yTicksH, pts:ptsH, fit:fitH},
 {letter:'(I)', ct:2, i:8,  box:[777,402,1013,617], xLim:gbmXLim, xT:gbmXTicks, yLim:yLimI, yT:yTicksI, pts:ptsI, fit:fitI},
 {letter:'(J)', ct:3, i:9,  box:[1068,402,1317,617], xLim:gbmXLim, xT:gbmXTicks, yLim:yLimJ, yT:yTicksJ, pts:ptsJ, fit:fitJ},
 {letter:'(K)', ct:4, i:10, box:[780,697,1013,912], xLim:gbmXLim, xT:gbmXTicks, yLim:yLimK, yT:yTicksK, pts:ptsK, fit:fitK, fmt:1},
 {letter:'(L)', ct:5, i:11, box:[1058,697,1317,912], xLim:gbmXLim, xT:gbmXTicks, yLim:yLimL, yT:yTicksL, pts:ptsL, fit:fitL}
];
const letterX = {'(A)':82,'(C)':82,'(E)':82,'(B)':382,'(D)':382,'(F)':382,'(G)':726,'(I)':726,'(K)':726,'(H)':1023,'(J)':1023,'(L)':1023};
const rowTitleY = {107:90, 402:385, 697:680};

function minors(ticks, lim){
  const st = ticks[1]-ticks[0], out=[];
  const all=[ticks[0]-st/2].concat(ticks.map(t=>t+st/2));
  all.forEach(v=>{ if(v>lim[0] && v<lim[1]) out.push(v); });
  return out;
}
function txt(x,y,text,font,align,extra){
  return Object.assign({type:'text', x:x, y:y, silent:true, z:100,
    style:{text:text, font:font, fill:'#000', textAlign:align, align:align, textVerticalAlign:'middle', verticalAlign:'middle'}}, extra||{});
}

const grid=[], xAxis=[], yAxis=[], series=[], graphic=[];
panels.forEach((pn,k)=>{
  const [l,t,r,b]=pn.box;
  grid.push({left:l, top:t, width:r-l, height:b-t, containLabel:false, outerBoundsMode:'none', show:true, backgroundColor:'#fff', borderWidth:0});
  const axLabel = {color:'#1a1a1a', fontSize:14, fontFamily:FF};
  xAxis.push({gridIndex:k, type:'value', min:pn.xLim[0], max:pn.xLim[1],
    axisLine:{show:false},
    axisTick:{show:true, length:3, lineStyle:{color:'#333'}, customValues:pn.xT},
    axisLabel:Object.assign({customValues:pn.xT, margin:4, formatter:v=>String(v)}, axLabel),
    splitLine:{show:true, lineStyle:{color:'#E6E6E6', width:1}}});
  yAxis.push({gridIndex:k, type:'value', min:pn.yLim[0], max:pn.yLim[1],
    axisLine:{show:false},
    axisTick:{show:true, length:3, lineStyle:{color:'#333'}, customValues:pn.yT},
    axisLabel:Object.assign({customValues:pn.yT, margin:6, formatter:v=>pn.fmt?Number(v).toFixed(1):String(v)}, axLabel),
    splitLine:{show:true, lineStyle:{color:'#E6E6E6', width:1}}});
  const mx=minors(pn.xT,pn.xLim), my=minors(pn.yT,pn.yLim);
  series.push({type:'line', xAxisIndex:k, yAxisIndex:k, data:[[pn.xLim[0],pn.yLim[0]]], symbol:'none', silent:true, z:1,
    lineStyle:{opacity:0},
    markLine:{silent:true, symbol:['none','none'], label:{show:false}, animation:false,
      lineStyle:{color:'#F2F2F2', width:0.8, type:'solid'}, emphasis:{disabled:true},
      data: mx.map(v=>({xAxis:v})).concat(my.map(v=>({yAxis:v})))}});
  series.push({type:'scatter', xAxisIndex:k, yAxisIndex:k, data:pn.pts, symbolSize:8, silent:true, z:2,
    itemStyle:{color:PT, opacity:1}});
  const fit=pn.fit;
  series.push({type:'custom', xAxisIndex:k, yAxisIndex:k, silent:true, z:3, clip:true,
    data:[[fit[0][0],fit[0][1]]],
    renderItem:(params,api)=>{
      const up=fit.map(f=>api.coord([f[0],f[3]]));
      const lo=fit.slice().reverse().map(f=>api.coord([f[0],f[2]]));
      return {type:'polygon', shape:{points:up.concat(lo)}, style:{fill:BAND}};
    }});
  series.push({type:'line', xAxisIndex:k, yAxisIndex:k, silent:true, z:4, symbol:'none',
    data:[[fit[0][0],fit[0][1]],[fit[fit.length-1][0],fit[fit.length-1][1]]],
    lineStyle:{color:OR, width:2.6}});
  graphic.push({type:'rect', silent:true, z:90, shape:{x:l+0.5, y:t+0.5, width:r-l, height:b-t},
    style:{fill:'none', stroke:'#333', lineWidth:1.4}});
  graphic.push(txt(letterX[pn.letter], rowTitleY[t], pn.letter, 'bold 18px '+FF, 'left'));
  graphic.push(txt((l+r)/2, rowTitleY[t], cellTypes[pn.ct], '16.5px '+FF, 'center'));
  graphic.push(txt(l+3, t+8, statR[pn.i], '14.5px '+FF, 'left'));
  graphic.push(txt(l+3, t+30, statP[pn.i], '14.5px '+FF, 'left'));
});

graphic.push(txt(376, 28, 'LGG', '36px '+FF, 'center'));
graphic.push(txt(1023, 28, 'GBM', '36px '+FF, 'center'));
graphic.push({type:'line', silent:true, shape:{x1:83,y1:62,x2:671,y2:62}, style:{stroke:'#000', lineWidth:2.5}});
graphic.push({type:'line', silent:true, shape:{x1:728,y1:62,x2:1318,y2:62}, style:{stroke:'#000', lineWidth:2.5}});
graphic.push({type:'line', silent:true, shape:{x1:62,y1:920,x2:62,y2:129}, style:{stroke:'#000', lineWidth:2.2}});
graphic.push({type:'polyline', silent:true, shape:{points:[[52,148],[62,128],[72,148]]}, style:{stroke:'#000', lineWidth:2.2, fill:null}});
graphic.push({type:'line', silent:true, shape:{x1:127,y1:970,x2:1321,y2:970}, style:{stroke:'#000', lineWidth:2.2}});
graphic.push({type:'polyline', silent:true, shape:{points:[[1304,960],[1322,970],[1304,980]]}, style:{stroke:'#000', lineWidth:2.2, fill:null}});
graphic.push(txt(28, 528, 'Relative abundance of immune cells', '36px '+FF, 'center', {rotation:Math.PI/2}));
graphic.push(txt(728, 1004, 'Expression of GDF15', '36px '+FF, 'center'));

const chart = echarts.init(document.getElementById('c'), null, {renderer:'canvas'});
chart.setOption({backgroundColor:'#fff', animation:false, grid, xAxis, yAxis, series, graphic});
</script>
</body></html>
